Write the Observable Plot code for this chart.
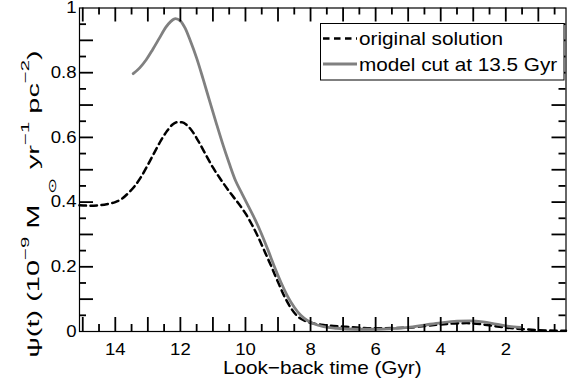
<!DOCTYPE html>
<html>
<head>
<meta charset="utf-8">
<script src="https://cdn.jsdelivr.net/npm/d3@7"></script>
<script src="https://cdn.jsdelivr.net/npm/@observablehq/plot@0.6"></script>
<style>
  html, body { margin: 0; padding: 0; background: #fff; }
</style>
</head>
<body>
<div id="chart"></div>
<script>
// Star formation history psi(t) against look-back time (Gyr), in 1e-9 Msun / yr / pc^2
const lookbackOriginal = [15.1, 14.8, 14.5, 14.2, 14.0, 13.8, 13.6, 13.4, 13.2, 13.0, 12.8, 12.6, 12.4, 12.25, 12.1, 11.95, 11.8, 11.6, 11.4, 11.2, 11.0, 10.8, 10.6, 10.4, 10.2, 10.0, 9.8, 9.6, 9.4, 9.2, 9.0, 8.8, 8.6, 8.4, 8.2, 8.0, 7.6, 7.0, 6.0, 5.0, 4.5, 4.0, 3.2, 2.5, 2.0, 1.3, 0.7, 0.15];
const sfrOriginal = [0.39, 0.389, 0.39, 0.395, 0.40, 0.41, 0.428, 0.45, 0.479, 0.515, 0.553, 0.59, 0.621, 0.639, 0.647, 0.647, 0.638, 0.614, 0.58, 0.543, 0.507, 0.476, 0.447, 0.42, 0.394, 0.365, 0.33, 0.29, 0.245, 0.2, 0.153, 0.108, 0.072, 0.047, 0.034, 0.027, 0.02, 0.015, 0.01, 0.012, 0.017, 0.022, 0.026, 0.019, 0.012, 0.006, 0.003, 0.002];

const lookbackCut = [13.45, 13.25, 13.05, 12.85, 12.65, 12.45, 12.3, 12.15, 12.0, 11.85, 11.7, 11.5, 11.3, 11.1, 10.9, 10.7, 10.5, 10.3, 10.1, 9.9, 9.7, 9.5, 9.3, 9.1, 8.9, 8.7, 8.5, 8.3, 8.1, 7.9, 7.6, 7.2, 6.6, 6.0, 5.5, 5.0, 4.5, 4.0, 3.5, 3.1, 2.7, 2.3, 1.9, 1.55];
const sfrCut = [0.797, 0.815, 0.84, 0.872, 0.906, 0.94, 0.958, 0.967, 0.96, 0.937, 0.9, 0.845, 0.78, 0.712, 0.645, 0.58, 0.52, 0.465, 0.425, 0.385, 0.345, 0.3, 0.25, 0.198, 0.15, 0.108, 0.075, 0.05, 0.034, 0.024, 0.015, 0.01, 0.007, 0.007, 0.009, 0.013, 0.02, 0.027, 0.032, 0.033, 0.03, 0.023, 0.016, 0.013];

const seriesNames = ["original solution", "model cut at 13.5 Gyr"];

// axis ticks
const xMajorTicks = [1, 2, 3, 4, 5, 6, 7, 8, 9, 10, 11, 12, 13, 14, 15];
const xMinorTicks = [0.5, 1.5, 2.5, 3.5, 4.5, 5.5, 6.5, 7.5, 8.5, 9.5, 10.5, 11.5, 12.5, 13.5, 14.5];
const xTickLabels = [2, 4, 6, 8, 10, 12, 14];
const yMajorTicks = [0.1, 0.2, 0.3, 0.4, 0.5, 0.6, 0.7, 0.8, 0.9];
const yMinorTicks = [0.05, 0.15, 0.25, 0.35, 0.45, 0.55, 0.65, 0.75, 0.85, 0.95];
const yTickLabels = [0, 0.2, 0.4, 0.6, 0.8, 1];

const original = lookbackOriginal.map((t, i) => ({t, psi: sfrOriginal[i]}));
const cut = lookbackCut.map((t, i) => ({t, psi: sfrCut[i]}));

const W = 574, H = 381;
const M = {left: 79, right: 8.5, top: 7.5, bottom: 50};
const innerW = W - M.left - M.right;
const innerH = H - M.top - M.bottom;

const font = "'Liberation Sans', Arial, Helvetica, sans-serif";
const wide = 1.14;           // horizontal stretch of the lettering
const dashes = "6.5,4.5";
const grey = "#808080";
const major = 14, minor = 7; // tick lengths, drawn inside the box
const tickStyle = {stroke: "#000", strokeWidth: 1.8};

const chart = Plot.plot({
  width: W,
  height: H,
  marginLeft: M.left,
  marginRight: M.right,
  marginTop: M.top,
  marginBottom: M.bottom,
  style: {fontFamily: font, fontSize: "16.3px", background: "white", color: "black"},
  x: {domain: [15.1, 0.15], axis: null},
  y: {domain: [0, 1], axis: null},
  marks: [
    Plot.line(original, {x: "t", y: "psi", stroke: "black", strokeWidth: 2.5, strokeDasharray: dashes, curve: "monotone-x"}),
    Plot.line(cut, {x: "t", y: "psi", stroke: grey, strokeWidth: 2.8, curve: "monotone-x"}),
    // bottom and top ticks
    Plot.ruleX(xMajorTicks, {x: d => d, ...tickStyle, insetTop: innerH - major}),
    Plot.ruleX(xMinorTicks, {x: d => d, ...tickStyle, insetTop: innerH - minor}),
    Plot.ruleX(xMajorTicks, {x: d => d, ...tickStyle, insetBottom: innerH - major}),
    Plot.ruleX(xMinorTicks, {x: d => d, ...tickStyle, insetBottom: innerH - minor}),
    // left and right ticks
    Plot.ruleY(yMajorTicks, {y: d => d, ...tickStyle, insetRight: innerW - major}),
    Plot.ruleY(yMinorTicks, {y: d => d, ...tickStyle, insetRight: innerW - minor}),
    Plot.ruleY(yMajorTicks, {y: d => d, ...tickStyle, insetLeft: innerW - major}),
    Plot.ruleY(yMinorTicks, {y: d => d, ...tickStyle, insetLeft: innerW - minor}),
    Plot.axisX(xTickLabels, {anchor: "bottom", tickSize: 0, tickPadding: 12, label: null, fontSize: 16.3, tickFormat: d => String(d)}),
    Plot.axisY(yTickLabels, {anchor: "left", tickSize: 0, tickPadding: 3, label: null, fontSize: 16.3,
      tickFormat: d => (d === 0 || d === 1) ? String(d) : d.toFixed(1)}),
    Plot.frame({stroke: "black", strokeWidth: 1.2})
  ]
});

document.getElementById("chart").appendChild(chart);

const svg = d3.select(chart);

// widen tick labels about their anchor points
svg.selectAll("text").each(function () {
  const el = d3.select(this);
  const x = parseFloat(el.attr("x")) || 0;
  const tr = el.attr("transform") || "";
  el.attr("x", null).attr("transform", `${tr} translate(${x},0) scale(${wide},1)`);
});

// x-axis title
svg.append("text")
  .attr("transform", `translate(${M.left + innerW / 2},374) scale(${wide},1)`)
  .attr("text-anchor", "middle")
  .attr("font-family", font).attr("font-size", 18.2).attr("fill", "black")
  .text("Look\u2212back time (Gyr)");

// y-axis title with super/subscripts, stretched along its length
const yt = svg.append("text")
  .attr("text-anchor", "middle")
  .attr("font-family", font).attr("font-size", 16.3).attr("fill", "black");
const parts = [
  ["\u03C8(t) (10", 0, 0, 16.3],
  ["\u22129", 0, -10, 11.5],
  [" M", 0, 10, 16.3],
  ["\u2299", 6, 17, 11],
  ["yr", 5, -17, 16.3],
  ["\u22121", 0, -10, 11.5],
  [" pc", 0, 10, 16.3],
  ["\u22122", 0, -10, 11.5],
  [")", 0, 10, 16.3]
];
for (const [s, dx, dy, fs] of parts) {
  yt.append("tspan").attr("dx", dx).attr("dy", dy).attr("font-size", fs).text(s);
}
const yLen = yt.node().getComputedTextLength();
yt.attr("transform", `translate(39,204) rotate(-90) scale(${288 / yLen},1)`);

// legend
const lg = svg.append("g").attr("font-family", font).attr("font-size", 18.2).attr("text-anchor", "start");
lg.append("rect")
  .attr("x", 320.5).attr("y", 23.5).attr("width", 243.5).attr("height", 56.5)
  .attr("fill", "white").attr("stroke", "black").attr("stroke-width", 1);
const rows = [
  {name: seriesNames[0], y: 38.5, stroke: "black", dash: dashes, width: 2.5},
  {name: seriesNames[1], y: 64, stroke: grey, dash: null, width: 2.8}
];
for (const r of rows) {
  lg.append("line")
    .attr("x1", 323).attr("x2", 357).attr("y1", r.y).attr("y2", r.y)
    .attr("stroke", r.stroke).attr("stroke-width", r.width)
    .attr("stroke-dasharray", r.dash);
  lg.append("text")
    .attr("transform", `translate(359,${r.y + 6.5}) scale(${wide},1)`)
    .attr("text-anchor", "start")
    .attr("fill", "black")
    .text(r.name);
}
</script>
</body>
</html>
